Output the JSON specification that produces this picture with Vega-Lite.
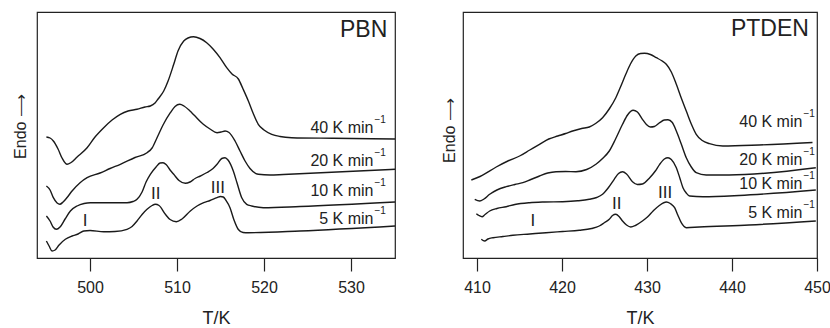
{
"$schema": "https://vega.github.io/schema/vega-lite/v6.json",
"padding": {"left": 11, "top": 11, "right": 0, "bottom": 0},
"spacing": 41,
"config": {
  "font": "Liberation Sans",
  "view": {"stroke": "#222", "strokeWidth": 1.2},
  "axis": {"grid": false, "labelColor": "#222", "titleColor": "#222", "tickColor": "#222", "domain": false, "labelFont": "Liberation Sans", "titleFont": "Liberation Sans", "titleFontWeight": "normal"}
},
"datasets": {
"pbn": [
{"rate":"40","T":494.98,"y":121},{"rate":"40","T":495.40,"y":120},{"rate":"40","T":495.78,"y":117},{"rate":"40","T":496.32,"y":109},{"rate":"40","T":496.78,"y":100},{"rate":"40","T":497.36,"y":93.7},{"rate":"40","T":497.82,"y":95.5},{"rate":"40","T":498.51,"y":101},{"rate":"40","T":499.66,"y":110.3},{"rate":"40","T":500.57,"y":121},{"rate":"40","T":501.57,"y":130.3},{"rate":"40","T":502.53,"y":138},{"rate":"40","T":503.48,"y":143.7},{"rate":"40","T":504.37,"y":147},{"rate":"40","T":505.40,"y":148.7},{"rate":"40","T":506.32,"y":151},{"rate":"40","T":506.93,"y":152},{"rate":"40","T":507.47,"y":155},{"rate":"40","T":507.82,"y":159},{"rate":"40","T":508.47,"y":167},{"rate":"40","T":508.97,"y":177},{"rate":"40","T":509.62,"y":193.7},{"rate":"40","T":510.11,"y":207},{"rate":"40","T":510.77,"y":217},{"rate":"40","T":511.26,"y":220},{"rate":"40","T":511.90,"y":221.2},{"rate":"40","T":512.64,"y":219.5},{"rate":"40","T":513.41,"y":215.3},{"rate":"40","T":514.14,"y":209},{"rate":"40","T":514.94,"y":200.3},{"rate":"40","T":515.71,"y":190.3},{"rate":"40","T":516.32,"y":184},{"rate":"40","T":517.05,"y":179},{"rate":"40","T":517.59,"y":169},{"rate":"40","T":518.20,"y":157},{"rate":"40","T":518.74,"y":145},{"rate":"40","T":519.34,"y":133.7},{"rate":"40","T":520.0,"y":128},{"rate":"40","T":520.89,"y":123.7},{"rate":"40","T":521.84,"y":121.5},{"rate":"40","T":523.18,"y":120.3},{"rate":"40","T":527.93,"y":119.7},{"rate":"40","T":535.06,"y":119},
{"rate":"20","T":494.98,"y":72},{"rate":"20","T":495.40,"y":68},{"rate":"20","T":495.78,"y":60.3},{"rate":"20","T":496.21,"y":55},{"rate":"20","T":496.52,"y":53.7},{"rate":"20","T":496.90,"y":56},{"rate":"20","T":497.36,"y":60.5},{"rate":"20","T":497.93,"y":67},{"rate":"20","T":498.85,"y":75.3},{"rate":"20","T":499.66,"y":80.3},{"rate":"20","T":501.15,"y":85},{"rate":"20","T":502.30,"y":89.5},{"rate":"20","T":503.48,"y":93.7},{"rate":"20","T":505.17,"y":100.5},{"rate":"20","T":506.55,"y":105.3},{"rate":"20","T":507.13,"y":110},{"rate":"20","T":507.70,"y":120.3},{"rate":"20","T":508.39,"y":133},{"rate":"20","T":509.23,"y":145.3},{"rate":"20","T":509.77,"y":151.5},{"rate":"20","T":510.31,"y":153.7},{"rate":"20","T":510.80,"y":152},{"rate":"20","T":511.49,"y":147},{"rate":"20","T":511.95,"y":143},{"rate":"20","T":513.02,"y":133.7},{"rate":"20","T":513.79,"y":129},{"rate":"20","T":514.60,"y":125.3},{"rate":"20","T":515.06,"y":126},{"rate":"20","T":515.52,"y":127},{"rate":"20","T":515.98,"y":125.5},{"rate":"20","T":516.67,"y":117},{"rate":"20","T":517.24,"y":107},{"rate":"20","T":517.82,"y":97},{"rate":"20","T":518.39,"y":89.5},{"rate":"20","T":519.34,"y":83.7},{"rate":"20","T":520.69,"y":83},{"rate":"20","T":522.22,"y":83.5},{"rate":"20","T":535.06,"y":88.7},
{"rate":"10","T":494.98,"y":42},{"rate":"10","T":495.40,"y":37},{"rate":"10","T":495.75,"y":31},{"rate":"10","T":496.13,"y":28.7},{"rate":"10","T":496.55,"y":31},{"rate":"10","T":497.13,"y":39},{"rate":"10","T":497.74,"y":47},{"rate":"10","T":498.51,"y":52},{"rate":"10","T":499.31,"y":54.5},{"rate":"10","T":500.03,"y":55.3},{"rate":"10","T":502.30,"y":55.3},{"rate":"10","T":504.25,"y":55.3},{"rate":"10","T":504.94,"y":56.5},{"rate":"10","T":505.40,"y":58.7},{"rate":"10","T":505.98,"y":66},{"rate":"10","T":506.44,"y":76},{"rate":"10","T":506.93,"y":83.7},{"rate":"10","T":507.59,"y":91},{"rate":"10","T":508.05,"y":95},{"rate":"10","T":508.39,"y":95.3},{"rate":"10","T":508.74,"y":93.5},{"rate":"10","T":509.20,"y":88},{"rate":"10","T":509.62,"y":83.7},{"rate":"10","T":510.23,"y":77.5},{"rate":"10","T":510.95,"y":74.7},{"rate":"10","T":511.49,"y":76},{"rate":"10","T":512.07,"y":79.5},{"rate":"10","T":512.68,"y":82},{"rate":"10","T":513.45,"y":85.5},{"rate":"10","T":514.14,"y":89.5},{"rate":"10","T":514.60,"y":93.7},{"rate":"10","T":515.14,"y":99.5},{"rate":"10","T":515.52,"y":100.3},{"rate":"10","T":515.86,"y":98},{"rate":"10","T":516.47,"y":87},{"rate":"10","T":516.90,"y":75},{"rate":"10","T":517.44,"y":60.3},{"rate":"10","T":518.01,"y":53.7},{"rate":"10","T":518.59,"y":52},{"rate":"10","T":519.92,"y":50.3},{"rate":"10","T":524.14,"y":51.5},{"rate":"10","T":535.06,"y":56},
{"rate":"5","T":494.98,"y":17},{"rate":"5","T":495.29,"y":12},{"rate":"5","T":495.63,"y":7},{"rate":"5","T":495.98,"y":8},{"rate":"5","T":496.44,"y":13},{"rate":"5","T":497.16,"y":18.7},{"rate":"5","T":497.93,"y":22},{"rate":"5","T":498.62,"y":24},{"rate":"5","T":499.28,"y":27},{"rate":"5","T":500.0,"y":27.5},{"rate":"5","T":501.57,"y":26.3},{"rate":"5","T":502.87,"y":26.5},{"rate":"5","T":504.25,"y":28.7},{"rate":"5","T":504.83,"y":31.5},{"rate":"5","T":505.40,"y":37},{"rate":"5","T":505.98,"y":43.5},{"rate":"5","T":506.55,"y":48.7},{"rate":"5","T":507.13,"y":52.5},{"rate":"5","T":507.51,"y":53.7},{"rate":"5","T":507.93,"y":52.5},{"rate":"5","T":508.66,"y":43.7},{"rate":"5","T":509.20,"y":38.5},{"rate":"5","T":509.92,"y":36.3},{"rate":"5","T":510.57,"y":39},{"rate":"5","T":511.53,"y":47},{"rate":"5","T":512.30,"y":52},{"rate":"5","T":513.07,"y":55.3},{"rate":"5","T":513.79,"y":57.5},{"rate":"5","T":514.60,"y":60.3},{"rate":"5","T":515.0,"y":61.5},{"rate":"5","T":515.32,"y":61},{"rate":"5","T":515.63,"y":57.5},{"rate":"5","T":516.09,"y":50.3},{"rate":"5","T":516.55,"y":38},{"rate":"5","T":517.05,"y":28.5},{"rate":"5","T":517.59,"y":25.5},{"rate":"5","T":518.20,"y":25.3},{"rate":"5","T":524.14,"y":27},{"rate":"5","T":535.06,"y":32}
],
"ptden": [
{"rate":"40","T":409.33,"y":78},{"rate":"40","T":410.35,"y":81.5},{"rate":"40","T":412.26,"y":91},{"rate":"40","T":413.63,"y":97},{"rate":"40","T":415.01,"y":102},{"rate":"40","T":416.21,"y":108},{"rate":"40","T":417.35,"y":113.7},{"rate":"40","T":418.44,"y":119},{"rate":"40","T":419.50,"y":122},{"rate":"40","T":420.43,"y":124.5},{"rate":"40","T":421.25,"y":127},{"rate":"40","T":422.31,"y":129.5},{"rate":"40","T":423.21,"y":131},{"rate":"40","T":423.95,"y":134.5},{"rate":"40","T":424.77,"y":140.3},{"rate":"40","T":425.59,"y":149.5},{"rate":"40","T":426.33,"y":160.3},{"rate":"40","T":426.88,"y":171},{"rate":"40","T":427.50,"y":183.7},{"rate":"40","T":428.05,"y":194},{"rate":"40","T":428.68,"y":202},{"rate":"40","T":429.23,"y":204.5},{"rate":"40","T":429.70,"y":204.7},{"rate":"40","T":430.40,"y":203.5},{"rate":"40","T":431.10,"y":200.3},{"rate":"40","T":431.69,"y":197.5},{"rate":"40","T":432.27,"y":193.7},{"rate":"40","T":432.86,"y":186},{"rate":"40","T":433.45,"y":173.7},{"rate":"40","T":434.03,"y":160},{"rate":"40","T":434.62,"y":147},{"rate":"40","T":435.21,"y":134},{"rate":"40","T":435.79,"y":123.7},{"rate":"40","T":436.50,"y":117.5},{"rate":"40","T":437.35,"y":114.3},{"rate":"40","T":438.92,"y":112},{"rate":"40","T":443.18,"y":113},{"rate":"40","T":449.47,"y":115.5},
{"rate":"20","T":409.73,"y":58.7},{"rate":"20","T":410.32,"y":57},{"rate":"20","T":410.82,"y":59},{"rate":"20","T":411.49,"y":63.7},{"rate":"20","T":412.34,"y":68},{"rate":"20","T":413.43,"y":71.3},{"rate":"20","T":414.45,"y":73.5},{"rate":"20","T":415.39,"y":75.3},{"rate":"20","T":416.33,"y":78.5},{"rate":"20","T":417.35,"y":82},{"rate":"20","T":418.32,"y":85},{"rate":"20","T":419.30,"y":86.3},{"rate":"20","T":420.43,"y":86.5},{"rate":"20","T":421.64,"y":86.3},{"rate":"20","T":422.90,"y":88.5},{"rate":"20","T":423.99,"y":93.7},{"rate":"20","T":424.77,"y":99.5},{"rate":"20","T":425.56,"y":107},{"rate":"20","T":426.30,"y":119},{"rate":"20","T":427.12,"y":133.7},{"rate":"20","T":427.71,"y":143},{"rate":"20","T":428.37,"y":147.7},{"rate":"20","T":428.87,"y":146},{"rate":"20","T":429.46,"y":138.7},{"rate":"20","T":429.93,"y":133.5},{"rate":"20","T":430.40,"y":131},{"rate":"20","T":430.87,"y":131.5},{"rate":"20","T":431.49,"y":135.3},{"rate":"20","T":432.04,"y":138},{"rate":"20","T":432.47,"y":138.3},{"rate":"20","T":432.98,"y":135.5},{"rate":"20","T":433.45,"y":127},{"rate":"20","T":434.03,"y":114},{"rate":"20","T":434.62,"y":100.3},{"rate":"20","T":435.21,"y":91},{"rate":"20","T":435.79,"y":85.3},{"rate":"20","T":436.96,"y":83},{"rate":"20","T":439.66,"y":83},{"rate":"20","T":449.86,"y":90.3},
{"rate":"10","T":409.92,"y":44.3},{"rate":"10","T":410.23,"y":42.5},{"rate":"10","T":410.59,"y":41.3},{"rate":"10","T":410.94,"y":43.5},{"rate":"10","T":411.49,"y":47},{"rate":"10","T":412.34,"y":49.5},{"rate":"10","T":413.43,"y":51.3},{"rate":"10","T":414.45,"y":53.5},{"rate":"10","T":416.18,"y":55.3},{"rate":"10","T":417.97,"y":56},{"rate":"10","T":420.08,"y":56.3},{"rate":"10","T":421.84,"y":57.2},{"rate":"10","T":423.21,"y":58.7},{"rate":"10","T":424.07,"y":60.5},{"rate":"10","T":424.77,"y":63.7},{"rate":"10","T":425.47,"y":70.5},{"rate":"10","T":426.14,"y":78.7},{"rate":"10","T":426.65,"y":84.5},{"rate":"10","T":427.12,"y":86.3},{"rate":"10","T":427.59,"y":84},{"rate":"10","T":428.29,"y":76.3},{"rate":"10","T":428.87,"y":73.5},{"rate":"10","T":429.46,"y":74},{"rate":"10","T":430.32,"y":80.3},{"rate":"10","T":430.98,"y":87},{"rate":"10","T":431.49,"y":93.7},{"rate":"10","T":432.04,"y":99},{"rate":"10","T":432.47,"y":100.3},{"rate":"10","T":432.86,"y":98.5},{"rate":"10","T":433.45,"y":90.3},{"rate":"10","T":433.86,"y":80},{"rate":"10","T":434.23,"y":70.3},{"rate":"10","T":434.62,"y":65},{"rate":"10","T":435.01,"y":62},{"rate":"10","T":436.58,"y":61.3},{"rate":"10","T":440.83,"y":62.5},{"rate":"10","T":449.86,"y":68},
{"rate":"5","T":410.50,"y":18.7},{"rate":"5","T":410.90,"y":17},{"rate":"5","T":411.29,"y":19},{"rate":"5","T":411.88,"y":20.3},{"rate":"5","T":413.05,"y":21.5},{"rate":"5","T":414.22,"y":22.7},{"rate":"5","T":416.21,"y":24},{"rate":"5","T":418.12,"y":25.3},{"rate":"5","T":420.08,"y":26.5},{"rate":"5","T":422.04,"y":27.7},{"rate":"5","T":423.48,"y":29.5},{"rate":"5","T":424.38,"y":32},{"rate":"5","T":425.01,"y":35.5},{"rate":"5","T":425.56,"y":38.7},{"rate":"5","T":425.94,"y":42.5},{"rate":"5","T":426.33,"y":43.7},{"rate":"5","T":426.71,"y":41.5},{"rate":"5","T":427.12,"y":37},{"rate":"5","T":427.59,"y":33},{"rate":"5","T":428.09,"y":31},{"rate":"5","T":428.64,"y":32.5},{"rate":"5","T":429.46,"y":37},{"rate":"5","T":430.05,"y":41},{"rate":"5","T":430.72,"y":47},{"rate":"5","T":431.45,"y":52.5},{"rate":"5","T":432.27,"y":56},{"rate":"5","T":432.74,"y":54.5},{"rate":"5","T":433.25,"y":50.3},{"rate":"5","T":433.62,"y":43},{"rate":"5","T":434.03,"y":35.3},{"rate":"5","T":434.62,"y":30.3},{"rate":"5","T":436.14,"y":31},{"rate":"5","T":442.0,"y":33},{"rate":"5","T":449.86,"y":37}
],
"pbn_rates": [{"label":"40 K min","T":532.59,"y":125.3},{"label":"20 K min","T":532.59,"y":92},{"label":"10 K min","T":532.59,"y":62},{"label":"5 K min","T":532.59,"y":34.3}],
"pbn_sup": [{"label":"−1","T":532.70,"y":135.3},{"label":"−1","T":532.70,"y":102},{"label":"−1","T":532.70,"y":72},{"label":"−1","T":532.70,"y":44.3}],
"pbn_roman": [{"label":"I","T":499.43,"y":32},{"label":"II","T":507.56,"y":58.7},{"label":"III","T":514.69,"y":65.3}],
"pbn_name": [{"label":"PBN","T":534.17,"y":221}],
"ptden_rates": [{"label":"40 K min","T":448.28,"y":131.5},{"label":"20 K min","T":448.28,"y":93.5},{"label":"10 K min","T":448.28,"y":69.3},{"label":"5 K min","T":448.28,"y":40.3}],
"ptden_sup": [{"label":"−1","T":448.40,"y":141.5},{"label":"−1","T":448.40,"y":103.5},{"label":"−1","T":448.40,"y":79.3},{"label":"−1","T":448.40,"y":50.3}],
"ptden_roman": [{"label":"I","T":416.57,"y":32},{"label":"II","T":426.45,"y":48.7},{"label":"III","T":432.13,"y":60.3}],
"ptden_name": [{"label":"PTDEN","T":449.04,"y":222}]
},
"hconcat": [
{
 "width": 358, "height": 246,
 "encoding": {
   "x": {"field": "T", "type": "quantitative", "scale": {"domain": [493.9, 535.06], "nice": false, "zero": false},
         "axis": {"values": [500, 510, 520, 530], "tickSize": 13, "tickWidth": 1.2, "labelFontSize": 16, "labelPadding": 8, "labelFlush": false, "labelOverlap": false, "title": "T/K", "titleFontSize": 18, "titlePadding": 14}},
   "y": {"field": "y", "type": "quantitative", "scale": {"domain": [0, 246], "nice": false, "zero": false},
         "axis": {"labels": false, "ticks": false, "minExtent": 0, "title": "Endo  ⟶", "titleFontSize": 16, "titlePadding": 9, "titleY": 114}}
 },
 "layer": [
  {"data": {"name": "pbn"}, "mark": {"type": "line", "color": "#1a1a1a", "strokeWidth": 1.4, "interpolate": "monotone"}, "encoding": {"detail": {"field": "rate"}}},
  {"data": {"name": "pbn_rates"}, "mark": {"type": "text", "align": "right", "baseline": "alphabetic", "fontSize": 16, "color": "#222"}, "encoding": {"text": {"field": "label"}}},
  {"data": {"name": "pbn_sup"}, "mark": {"type": "text", "align": "left", "baseline": "alphabetic", "fontSize": 10, "color": "#222"}, "encoding": {"text": {"field": "label"}}},
  {"data": {"name": "pbn_roman"}, "mark": {"type": "text", "align": "center", "baseline": "alphabetic", "fontSize": 17, "color": "#222"}, "encoding": {"text": {"field": "label"}}},
  {"data": {"name": "pbn_name"}, "mark": {"type": "text", "align": "right", "baseline": "alphabetic", "fontSize": 23, "color": "#222"}, "encoding": {"text": {"field": "label"}}}
 ]
},
{
 "width": 354, "height": 246,
 "encoding": {
   "x": {"field": "T", "type": "quantitative", "scale": {"domain": [408.35, 450], "nice": false, "zero": false},
         "axis": {"values": [410, 420, 430, 440, 450], "tickSize": 13, "tickWidth": 1.2, "labelFontSize": 16, "labelPadding": 8, "labelFlush": false, "labelOverlap": false, "title": "T/K", "titleFontSize": 18, "titlePadding": 14}},
   "y": {"field": "y", "type": "quantitative", "scale": {"domain": [0, 246], "nice": false, "zero": false},
         "axis": {"labels": false, "ticks": false, "minExtent": 0, "title": "Endo  ⟶", "titleFontSize": 16, "titlePadding": 6, "titleY": 118}}
 },
 "layer": [
  {"data": {"name": "ptden"}, "mark": {"type": "line", "color": "#1a1a1a", "strokeWidth": 1.4, "interpolate": "monotone"}, "encoding": {"detail": {"field": "rate"}}},
  {"data": {"name": "ptden_rates"}, "mark": {"type": "text", "align": "right", "baseline": "alphabetic", "fontSize": 16, "color": "#222"}, "encoding": {"text": {"field": "label"}}},
  {"data": {"name": "ptden_sup"}, "mark": {"type": "text", "align": "left", "baseline": "alphabetic", "fontSize": 10, "color": "#222"}, "encoding": {"text": {"field": "label"}}},
  {"data": {"name": "ptden_roman"}, "mark": {"type": "text", "align": "center", "baseline": "alphabetic", "fontSize": 17, "color": "#222"}, "encoding": {"text": {"field": "label"}}},
  {"data": {"name": "ptden_name"}, "mark": {"type": "text", "align": "right", "baseline": "alphabetic", "fontSize": 23, "color": "#222"}, "encoding": {"text": {"field": "label"}}}
 ]
}
]
}
